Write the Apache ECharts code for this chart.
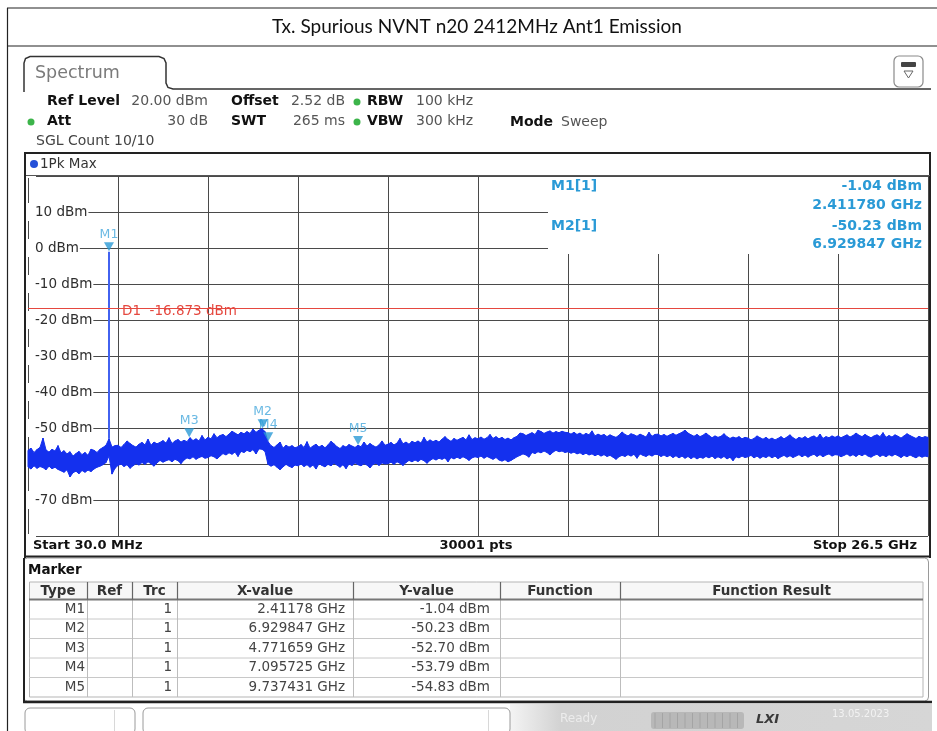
<!DOCTYPE html>
<html>
<head>
<meta charset="utf-8">
<script src="https://cdn.jsdelivr.net/npm/echarts/dist/echarts.min.js"></script>
<style>
  html, body { margin: 0; padding: 0; background: #fff; }
  #chart { width: 937px; height: 731px; }
</style>
</head>
<body>
<div id="chart"></div>
<script>
// Sweep settings of the analyzer
const sweepStartGHz = 0.03;
const sweepStopGHz = 26.5;
const sweepPoints = 30001;
const refLevelDbm = 20;
const bottomDbm = -80;
const displayLineDbm = -16.873;

// Peak-hold trace reduced to display bins: highest level per bin (dBm), one row per division
const traceMaxDbm = [
  -56.2, -55.6, -56.8, -56.0, -55.4, -52.8, -56.1, -56.7, -55.9, -56.4, -54.9, -56.9, -56.3, -57.2, -56.6, -57.8, -57.1, -56.5, -57.4, -56.8, -57.6, -55.9, -56.2, -56.8, -55.9, -55.4, -54.8, -53.0, -55.3, -54.9,
  -54.8, -55.4, -54.6, -53.6, -54.3, -54.9, -55.3, -54.5, -54.0, -54.7, -53.1, -54.8, -53.9, -54.4, -54.0, -53.5, -54.2, -52.7, -54.3, -53.6, -53.2, -53.9, -53.4, -53.8, -52.7, -53.5, -53.0, -53.6, -52.1, -53.3,
  -52.6, -53.0, -51.6, -52.7, -52.1, -51.8, -52.4, -51.7, -50.9, -51.4, -51.9, -51.2, -51.6, -51.0, -51.5, -50.3, -51.2, -50.6, -50.2, -51.0, -53.8, -54.9, -55.4, -54.7, -53.9, -55.6, -54.8, -55.3, -54.9, -55.5,
  -55.2, -54.6, -55.4, -53.8, -55.6, -55.0, -54.5, -55.3, -54.8, -55.5, -54.7, -53.7, -54.4, -55.2, -55.7, -54.9, -55.3, -54.6, -55.0, -55.4, -54.8, -55.2, -53.9, -55.0, -54.3, -54.9, -55.3, -54.7, -53.6, -54.8,
  -54.5, -54.0, -54.7, -54.2, -52.9, -54.4, -53.9, -54.5, -53.7, -54.1, -53.6, -54.2, -52.6, -53.9, -53.3, -53.8, -53.4, -53.9, -53.1, -52.4, -53.2, -53.7, -52.9, -53.4, -53.0, -52.6, -53.3, -51.9, -53.2, -52.7,
  -53.0, -52.5, -53.1, -52.7, -51.8, -52.9, -52.4, -53.0, -52.6, -53.2, -52.8, -53.3, -52.7, -52.3, -51.4, -51.6, -52.1, -51.7, -51.3, -51.8, -50.6, -51.0, -51.5, -51.1, -50.8, -51.4, -51.0, -51.3, -50.9, -51.2,
  -51.3, -51.7, -51.2, -51.8, -51.4, -52.0, -51.5, -51.9, -50.8, -52.2, -51.7, -52.1, -51.8, -52.4, -51.9, -52.3, -52.6, -52.0, -51.1, -51.8, -52.2, -51.6, -51.9, -52.3, -51.7, -52.1, -52.5, -51.2, -52.3, -51.8,
  -51.7, -52.2, -51.8, -52.3, -51.9, -51.5, -52.0, -51.6, -51.2, -50.6, -51.4, -51.9, -52.3, -51.8, -52.4, -52.0, -51.4, -52.1, -52.7, -52.2, -52.6, -52.3, -51.6, -52.4, -52.9, -52.5, -52.8, -52.4, -53.0, -52.6,
  -52.8, -53.3, -52.9, -52.2, -52.7, -53.1, -52.6, -53.2, -52.8, -53.3, -52.9, -52.4, -53.0, -52.5, -51.9, -52.7, -53.2, -52.6, -52.9, -52.4, -53.0, -52.5, -52.2, -52.8, -51.7, -52.9, -52.4, -52.7, -52.2, -52.6,
  -52.2, -52.7, -52.3, -51.9, -52.5, -52.1, -51.4, -52.0, -52.4, -51.8, -52.3, -52.7, -52.2, -51.9, -52.4, -51.3, -52.6, -52.1, -52.5, -51.9, -52.3, -52.8, -52.2, -51.6, -52.1, -52.5, -52.9, -52.3, -52.7, -52.4,
  -52.6
];
// lowest level per bin (dBm)
const traceMinDbm = [
  -60.8, -61.4, -60.5, -61.2, -60.7, -61.0, -61.6, -60.6, -61.3, -60.9, -61.5, -61.9, -62.3, -61.6, -63.6, -62.4, -62.0, -62.7, -61.8, -62.3, -61.7, -62.1, -61.4, -60.9, -60.6, -60.2, -59.6, -57.8, -62.8, -61.2,
  -60.4, -60.0, -60.7, -60.2, -61.2, -60.5, -59.9, -60.3, -59.6, -60.1, -59.4, -59.9, -60.6, -59.7, -59.0, -59.5, -59.1, -58.8, -59.4, -58.7, -59.1, -59.9, -58.9, -58.3, -58.6, -58.0, -58.7, -58.2, -57.9, -58.4,
  -58.2, -57.7, -58.0, -58.6, -57.8, -57.1, -57.5, -56.9, -57.3, -56.7, -57.9, -56.5, -56.8, -56.2, -56.6, -56.0, -57.2, -55.8, -55.9, -56.5, -60.1, -60.6, -60.2, -60.9, -61.6, -60.8, -60.1, -60.6, -61.0, -60.3,
  -60.5, -60.0, -60.7, -60.2, -60.9, -60.3, -61.4, -59.9, -60.4, -60.8, -60.1, -60.5, -59.8, -60.3, -60.9, -60.2, -61.3, -60.0, -60.4, -59.7, -60.2, -60.5, -59.9, -60.3, -61.1, -60.1, -59.8, -60.4, -59.7, -60.0,
  -59.9, -59.5, -60.1, -59.4, -59.8, -60.4, -59.6, -59.0, -59.4, -58.9, -59.3, -58.7, -59.1, -59.8, -59.0, -58.5, -58.9, -58.4, -58.7, -58.3, -59.4, -58.2, -58.6, -58.1, -58.5, -58.0, -58.4, -59.0, -58.3, -58.0,
  -58.2, -57.8, -58.4, -57.9, -58.3, -58.7, -58.2, -58.9, -59.2, -58.8, -59.4, -59.0, -58.5, -58.0, -57.6, -57.2, -57.5, -58.1, -56.8, -57.1, -56.6, -56.9, -56.4, -56.8, -57.5, -56.7, -56.2, -56.6, -56.4, -56.8,
  -56.6, -57.0, -56.7, -57.2, -56.9, -57.4, -57.0, -57.5, -57.2, -57.7, -57.3, -57.8, -57.4, -57.9, -57.6, -58.1, -58.7, -58.0, -57.6, -57.9, -57.4, -57.8, -57.3, -58.4, -57.2, -57.6, -57.9, -57.4, -57.8, -57.3,
  -57.4, -57.9, -57.5, -58.0, -57.6, -58.2, -57.7, -58.3, -57.8, -58.4, -57.9, -58.5, -58.0, -58.6, -58.1, -58.4, -57.9, -58.3, -57.8, -58.5, -58.0, -58.4, -57.9, -58.6, -58.1, -59.1, -58.0, -58.3, -57.8, -58.2,
  -58.0, -57.6, -58.3, -57.8, -58.4, -57.9, -58.2, -57.7, -58.3, -57.8, -58.5, -58.0, -57.6, -58.1, -57.7, -58.2, -57.8, -57.4, -58.0, -57.5, -58.1, -57.6, -57.3, -57.9, -57.4, -58.0, -57.5, -57.2, -57.8, -57.4,
  -57.5, -58.0, -57.6, -57.2, -57.8, -57.4, -57.9, -57.3, -57.7, -57.2, -57.8, -58.1, -57.6, -57.3, -57.9, -57.5, -58.0, -57.4, -57.8, -57.3, -57.7, -58.2, -57.6, -58.0, -57.5, -57.9, -58.3, -57.7, -58.1, -57.8,
  -58.0
];

// Markers (frequency in GHz, level in dBm)
const markerNames = ['M1', 'M2', 'M3', 'M4', 'M5'];
const markerFreqGHz = [2.41178, 6.929847, 4.771659, 7.095725, 9.737431];
const markerLevelDbm = [-1.04, -50.23, -52.70, -53.79, -54.83];

// Levels that carry a label on the left of the diagram
const yLabelLevels = [10, 0, -10, -20, -30, -40, -50, -70];

const traceBlue = '#1430ee';
const markerBlue = '#2a9ad6';
const uiFont = '"DejaVu Sans", Verdana, sans-serif';

const binCount = traceMaxDbm.length;
const binStep = (sweepStopGHz - sweepStartGHz) / (binCount - 1);
// one row per display bin: [frequency, max, min]
const traceBins = traceMaxDbm.map((v, i) => [sweepStartGHz + i * binStep, v, traceMinDbm[i]]);

// carrier line rises from the trace top at its bin up to the M1 reading
const carrierBin = Math.round((markerFreqGHz[0] - sweepStartGHz) / binStep);
const carrierData = [[markerFreqGHz[0], traceMaxDbm[carrierBin]], [markerFreqGHz[0], markerLevelDbm[0]]];

const markerPoints = markerNames.map((n, i) => ({ name: n, value: [markerFreqGHz[i], markerLevelDbm[i]] }));

// fills the band between the max and min readings of neighbouring bins
function renderTraceBand(params, api) {
  const i = params.dataIndexInside;
  if (i >= params.dataInsideLength - 1) return null;
  const a = api.coord([api.value(0), api.value(1)]);
  const b = api.coord([api.value(0, i + 1), api.value(1, i + 1)]);
  const c = api.coord([api.value(0, i + 1), api.value(2, i + 1)]);
  const d = api.coord([api.value(0), api.value(2)]);
  return {
    type: 'polygon', silent: true,
    shape: { points: [a, b, c, d] },
    style: { fill: traceBlue, stroke: traceBlue, lineWidth: 1 }
  };
}

function txt(x, y, s, font, fill, align, z) {
  return {
    type: 'text', z: z || 50, silent: true,
    style: {
      x: x, y: y, text: s, font: font, fill: fill || '#222',
      textAlign: align || 'left', align: align || 'left',
      textVerticalAlign: 'middle', verticalAlign: 'middle'
    }
  };
}
function line(x1, y1, x2, y2, color, w, z) {
  return { type: 'line', z: z || 40, silent: true,
    shape: { x1: x1, y1: y1, x2: x2, y2: y2 },
    style: { stroke: color, lineWidth: w || 1 } };
}
function rect(x, y, w, h, fill, stroke, lw, r, z) {
  return { type: 'rect', z: z || 30, silent: true,
    shape: { x: x, y: y, width: w, height: h, r: r || 0 },
    style: { fill: fill || 'none', stroke: stroke || 'none', lineWidth: lw || 1 } };
}

const g = [];
// report frame and title
g.push(line(7, 8, 937, 8, '#222', 1.2));
g.push(line(7, 46, 937, 46, '#222', 1.2));
g.push(line(7.5, 8, 7.5, 731, '#222', 1.2));
g.push(txt(477, 27, 'Tx. Spurious NVNT n20 2412MHz Ant1 Emission', '19px Lato', '#111', 'center'));

// Spectrum tab and header line
g.push({ type: 'polyline', z: 40, silent: true,
  shape: { points: [[24, 92], [24, 63], [25.5, 58.5], [30, 56.5], [159, 56.5], [164, 58.5], [166, 63], [166, 83], [168, 87.5], [173, 89], [931, 89]] },
  style: { fill: 'none', stroke: '#333', lineWidth: 1.5 } });
g.push(txt(35, 73, 'Spectrum', '17.5px ' + uiFont, '#7a7a7a'));
// display-config icon
g.push(rect(894, 56, 29, 31, '#fff', '#8a8a8a', 1.2, 5, 40));
g.push(rect(901, 62, 15, 5, '#444', 'none', 1, 1, 41));
g.push({ type: 'polygon', z: 41, silent: true, shape: { points: [[904, 71], [913, 71], [908.5, 78]] },
  style: { fill: 'none', stroke: '#666', lineWidth: 1 } });

// settings rows
const bold = 'bold 14px ' + uiFont;
const reg = '14px ' + uiFont;
g.push(txt(47, 101, 'Ref Level', bold, '#111'));
g.push(txt(208, 101, '20.00 dBm', reg, '#555', 'right'));
g.push(txt(231, 101, 'Offset', bold, '#111'));
g.push(txt(345, 101, '2.52 dB', reg, '#555', 'right'));
g.push({ type: 'circle', z: 40, silent: true, shape: { cx: 357, cy: 102, r: 3.5 }, style: { fill: '#3cb44a' } });
g.push(txt(367, 101, 'RBW', bold, '#111'));
g.push(txt(416, 101, '100 kHz', reg, '#555'));
g.push({ type: 'circle', z: 40, silent: true, shape: { cx: 31, cy: 122, r: 3.5 }, style: { fill: '#3cb44a' } });
g.push(txt(47, 121, 'Att', bold, '#111'));
g.push(txt(208, 121, '30 dB', reg, '#555', 'right'));
g.push(txt(231, 121, 'SWT', bold, '#111'));
g.push(txt(345, 121, '265 ms', reg, '#555', 'right'));
g.push({ type: 'circle', z: 40, silent: true, shape: { cx: 357, cy: 122, r: 3.5 }, style: { fill: '#3cb44a' } });
g.push(txt(367, 121, 'VBW', bold, '#111'));
g.push(txt(416, 121, '300 kHz', reg, '#555'));
g.push(txt(510, 122, 'Mode', bold, '#111'));
g.push(txt(561, 122, 'Sweep', reg, '#555'));
g.push(txt(36, 141, 'SGL Count 10/10', reg, '#444'));

// diagram frame
g.push(line(24, 153, 931, 153, '#222', 2));
g.push(line(25, 152, 25, 558, '#222', 2));
g.push(line(930, 152, 930, 558, '#222', 2));
g.push(line(26, 175.5, 930, 175.5, '#555', 1));
g.push({ type: 'circle', z: 40, silent: true, shape: { cx: 34, cy: 164, r: 4 }, style: { fill: '#2450d8' } });
g.push(txt(40, 164, '1Pk Max', '13.5px ' + uiFont, '#333'));

// marker readout box in the upper right of the diagram
g.push(rect(548, 177, 380, 77, '#fff', 'none', 1, 0, 45));
const infoFont = 'bold 14px ' + uiFont;
g.push(txt(551, 186, 'M1[1]', infoFont, markerBlue, 'left', 50));
g.push(txt(922, 186, markerLevelDbm[0].toFixed(2) + ' dBm', infoFont, markerBlue, 'right', 50));
g.push(txt(922, 205, markerFreqGHz[0].toFixed(6) + ' GHz', infoFont, markerBlue, 'right', 50));
g.push(txt(551, 226, 'M2[1]', infoFont, markerBlue, 'left', 50));
g.push(txt(922, 226, markerLevelDbm[1].toFixed(2) + ' dBm', infoFont, markerBlue, 'right', 50));
g.push(txt(922, 244, markerFreqGHz[1].toFixed(6) + ' GHz', infoFont, markerBlue, 'right', 50));

// span bar under the diagram
g.push(line(26, 556.5, 930, 556.5, '#222', 2));
const spanFont = 'bold 13px ' + uiFont;
g.push(txt(33, 546, 'Start ' + (sweepStartGHz * 1000).toFixed(1) + ' MHz', spanFont, '#111'));
g.push(txt(476, 546, sweepPoints + ' pts', spanFont, '#111', 'center'));
g.push(txt(917, 546, 'Stop ' + sweepStopGHz.toFixed(1) + ' GHz', spanFont, '#111', 'right'));

// marker table
g.push(rect(23.5, 558, 905, 143, '#fff', '#9a9a9a', 1, 4, 20));
g.push(line(24, 558, 24, 702, '#222', 2));
g.push(line(23, 702, 932, 702, '#222', 2.5));
g.push(txt(28, 570, 'Marker', 'bold 13.5px ' + uiFont, '#111'));
const colX = [29, 87, 132, 177, 353, 500, 620, 923];
const headTop = 582, headBot = 599.5, rowH = 19.5;
const tableBottom = headBot + rowH * markerNames.length;
g.push(rect(29, headTop, 894, headBot - headTop, '#f7f7f7', 'none', 1, 0, 21));
g.push(rect(29.5, headTop, 893.5, tableBottom - headTop, 'none', '#b5b5b5', 1, 0, 22));
g.push(line(29, headBot, 923, headBot, '#777', 2, 23));
for (let i = 1; i < markerNames.length; i++) {
  g.push(line(29, headBot + rowH * i, 923, headBot + rowH * i, '#c8c8c8', 1, 22));
}
for (let c = 1; c < colX.length - 1; c++) {
  g.push(line(colX[c] + 0.5, headTop, colX[c] + 0.5, headBot, '#666', 1.2, 23));
  g.push(line(colX[c] + 0.5, headBot, colX[c] + 0.5, tableBottom, '#bdbdbd', 1, 22));
}
const headers = ['Type', 'Ref', 'Trc', 'X-value', 'Y-value', 'Function', 'Function Result'];
const headFont = 'bold 13.5px ' + uiFont;
headers.forEach((h, c) => g.push(txt((colX[c] + colX[c + 1]) / 2, (headTop + headBot) / 2 + 0.5, h, headFont, '#333', 'center')));
const cellFont = '13.5px ' + uiFont;
markerNames.forEach((n, i) => {
  const cy = headBot + rowH * (i + 0.5);
  g.push(txt(85, cy, n, cellFont, '#444', 'right'));
  g.push(txt(172, cy, '1', cellFont, '#444', 'right'));
  g.push(txt(345, cy, String(markerFreqGHz[i]) + ' GHz', cellFont, '#444', 'right'));
  g.push(txt(490, cy, markerLevelDbm[i].toFixed(2) + ' dBm', cellFont, '#444', 'right'));
});

// status bar
g.push(rect(510, 704, 422, 27, {
  type: 'linear', x: 0, y: 0, x2: 1, y2: 0,
  colorStops: [{ offset: 0, color: '#f4f4f4' }, { offset: 0.12, color: '#d2d2d2' }, { offset: 1, color: '#d6d6d6' }]
}, 'none', 1, 0, 20));
g.push(rect(25, 708, 110, 26, '#fff', '#9a9a9a', 1, 5, 21));
g.push(line(114.5, 710, 114.5, 731, '#d8d8d8', 1, 22));
g.push(rect(143, 708, 367, 26, '#fff', '#9a9a9a', 1, 5, 21));
g.push(line(488.5, 710, 488.5, 731, '#d8d8d8', 1, 22));
g.push(txt(560, 719, 'Ready', '12px ' + uiFont, '#ececec'));
g.push(rect(651, 712, 93, 17, '#b8b8b8', 'none', 1, 3, 22));
for (let k = 0; k < 12; k++) g.push(line(655 + k * 7.5, 713, 655 + k * 7.5, 728, '#a4a4a4', 1, 23));
g.push(txt(756, 720, 'LXI', 'italic bold 13px ' + uiFont, '#3a3a3a'));
g.push(txt(832, 714, '13.05.2023', '10px ' + uiFont, '#f2f2f2'));

const chart = echarts.init(document.getElementById('chart'), null, { renderer: 'canvas' });
chart.setOption({
  animation: false,
  backgroundColor: '#fff',
  grid: { left: 28, top: 176, width: 900, height: 360, show: false },
  xAxis: [
    { type: 'value', min: sweepStartGHz, max: sweepStopGHz, show: false },
    { // ten display divisions across the span
      type: 'value', min: 0, max: 10, interval: 1,
      axisLine: { show: false }, axisTick: { show: false }, axisLabel: { show: false },
      splitLine: { show: true, lineStyle: { color: '#4a4a4a', width: 1 } }
    }
  ],
  yAxis: [
    {
      type: 'value', position: 'left', min: bottomDbm, max: refLevelDbm, interval: 10,
      axisLine: { show: false }, axisTick: { show: false }, axisLabel: { show: false },
      splitLine: { show: true, lineStyle: { color: '#4a4a4a', width: 1 } }
    },
    {
      type: 'value', position: 'left', offset: 0, min: bottomDbm, max: refLevelDbm, interval: 10, z: 1,
      axisLine: { show: false }, axisTick: { show: false }, splitLine: { show: false },
      axisLabel: {
        inside: true, margin: 0,
        formatter: v => (yLabelLevels.indexOf(v) >= 0 ? v + ' dBm' : ''),
        color: '#2e2e2e', fontFamily: uiFont, fontSize: 13.5,
        backgroundColor: '#fff', padding: [2, 1, 2, 7]
      }
    }
  ],
  series: [
    {
      name: '1Pk Max', type: 'custom', data: traceBins, silent: true,
      encode: { x: 0, y: [1, 2] }, renderItem: renderTraceBand, z: 2
    },
    {
      name: 'Carrier', type: 'line', data: carrierData, symbol: 'none', silent: true,
      lineStyle: { color: '#4262f0', width: 2 }, z: 2,
      markLine: {
        silent: true, symbol: 'none',
        lineStyle: { color: '#e5483f', width: 1, type: 'solid' },
        label: {
          show: true, position: 'insideStartTop', distance: [94, -10],
          formatter: 'D1  ' + displayLineDbm.toFixed(3) + ' dBm',
          color: '#e5483f', fontFamily: uiFont, fontSize: 13.5
        },
        data: [{ yAxis: displayLineDbm }]
      }
    },
    {
      name: 'Markers', type: 'scatter', z: 3, silent: true,
      data: markerPoints.filter(p => p.name !== 'M2'),
      symbol: 'triangle', symbolRotate: 180, symbolSize: [10, 9], symbolOffset: [0, -5],
      itemStyle: { color: markerBlue },
      label: { show: true, position: 'top', distance: 1, formatter: '{b}', color: '#45a8dc', fontFamily: uiFont, fontSize: 12.5 }
    },
    {
      name: 'Marker M2', type: 'scatter', z: 4, silent: true,
      data: markerPoints.filter(p => p.name === 'M2'),
      symbol: 'triangle', symbolRotate: 180, symbolSize: [10, 9], symbolOffset: [0, -5],
      itemStyle: { color: markerBlue },
      label: { show: true, position: 'top', distance: 1, formatter: '{b}', color: '#45a8dc', fontFamily: uiFont, fontSize: 12.5 }
    }
  ],
  graphic: { elements: g }
});
</script>
</body>
</html>
